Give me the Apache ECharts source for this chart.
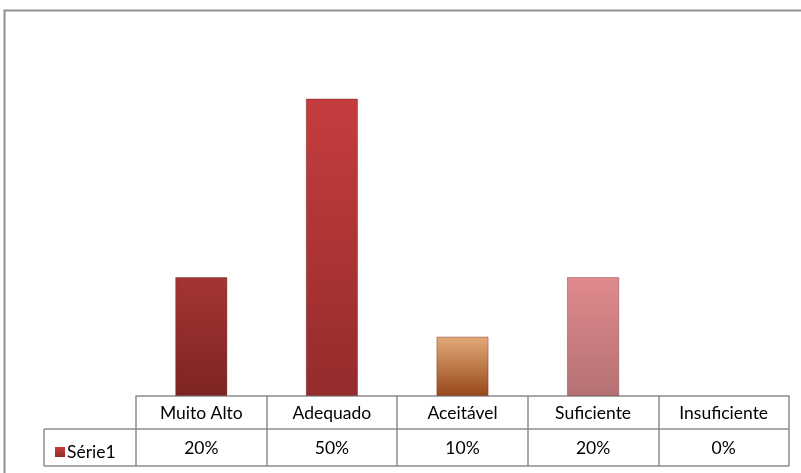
<!DOCTYPE html>
<html>
<head>
<meta charset="utf-8">
<script src="https://cdn.jsdelivr.net/npm/echarts@6/dist/echarts.min.js"></script>
<style>html,body{margin:0;padding:0;background:#fff}#c{width:801px;height:473px}</style>
</head>
<body>
<div id="c"></div>
<script>
const categories = ['Muito Alto', 'Adequado', 'Aceitável', 'Suficiente', 'Insuficiente'];
const seriesName = 'Série1';
const values = [0.20, 0.50, 0.10, 0.20, 0.00];
const valueLabels = ['20%', '50%', '10%', '20%', '0%'];
const barColors = [
  ['#a53533', '#7c2422'],
  ['#c53d3e', '#952b2b'],
  ['#e2aa78', '#98481a'],
  ['#e08a8e', '#b57073'],
  ['#c53d3e', '#952b2b']
];

const chart = echarts.init(document.getElementById('c'));
const font = 'Lato, "Open Sans", sans-serif';
const fs = 17.5;
function grad(c) {
  return new echarts.graphic.LinearGradient(0, 0, 0, 1, [
    {offset: 0, color: c[0]}, {offset: 1, color: c[1]}
  ]);
}
const gray = '#8c8c8c';
chart.setOption({
  animation: false,
  grid: {left: 136, right: 12, top: 39, bottom: 77},
  legend: {
    data: [{name: seriesName, itemStyle: {color: grad(barColors[1])}}],
    left: 50, top: 438, icon: 'rect', itemWidth: 10, itemHeight: 10, itemGap: 3,
    textStyle: {fontFamily: font, fontSize: fs, color: '#000', padding: [0, 0, 0, -3]}
  },
  xAxis: [{
    type: 'category', data: categories, position: 'bottom',
    axisLine: {lineStyle: {color: gray, width: 1.5}},
    axisTick: {show: true, length: 70, lineStyle: {color: gray, width: 1.5}},
    axisLabel: {interval: 0, margin: 8, fontFamily: font, fontSize: fs, color: '#000'}
  }, {
    type: 'category', data: valueLabels, position: 'bottom', offset: 35,
    axisLine: {show: false}, axisTick: {show: false},
    axisLabel: {interval: 0, margin: 8, fontFamily: font, fontSize: fs, color: '#000'}
  }],
  yAxis: {type: 'value', min: 0, max: 0.6, show: false, splitLine: {show: false}},
  series: [{
    name: seriesName, type: 'bar', xAxisIndex: 0, barCategoryGap: '60%',
    data: values.map((v, i) => ({value: v, itemStyle: {color: grad(barColors[i]), borderColor: 'rgba(90,20,20,0.35)', borderWidth: v > 0 ? 1 : 0}})),
    itemStyle: {color: grad(barColors[1])}
  }],
  graphic: [
    {type: 'rect', shape: {x: 4.5, y: 10.5, width: 820, height: 480}, style: {fill: null, stroke: '#909090', lineWidth: 2}},
    {type: 'line', shape: {x1: 44, y1: 429, x2: 789, y2: 429}, style: {stroke: gray, lineWidth: 1.5}},
    {type: 'line', shape: {x1: 44, y1: 466, x2: 789, y2: 466}, style: {stroke: gray, lineWidth: 1.5}},
    {type: 'line', shape: {x1: 44, y1: 429, x2: 44, y2: 466}, style: {stroke: gray, lineWidth: 1.5}}
  ]
});
</script>
</body>
</html>
